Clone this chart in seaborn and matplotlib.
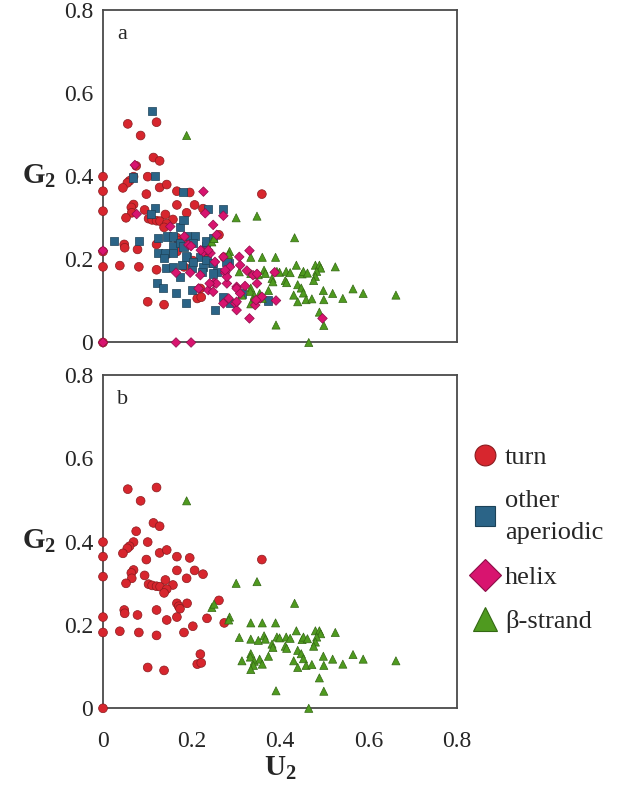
import pandas as pd
import matplotlib
matplotlib.use("Agg")
import matplotlib.pyplot as plt
from matplotlib.lines import Line2D
import seaborn as sns

# valores (U2, G2)
turn_u = [0.056, 0.121, 0.085, 0.114, 0.128, 0.075, 0.0, 0.069, 0.101, 0.060, 0.055, 0.045, 0.128, 0.144,
          0.0, 0.167, 0.196, 0.098, 0.359, 0.069, 0.064, 0.167, 0.207, 0.226, 0.094, 0.065, 0.189, 0.0,
          0.052, 0.103, 0.111, 0.121, 0.129, 0.141, 0.158, 0.144, 0.138, 0.262, 0.167, 0.171, 0.174, 0.190,
          0.121, 0.048, 0.049, 0.0, 0.078, 0.167, 0.144, 0.235, 0.274, 0.203, 0.038, 0.0, 0.081, 0.121,
          0.183, 0.220, 0.213, 0.222, 0.101, 0.138, 0.0]
turn_g = [0.526, 0.530, 0.498, 0.445, 0.437, 0.425, 0.399, 0.399, 0.399, 0.389, 0.384, 0.372, 0.373, 0.380,
          0.364, 0.364, 0.361, 0.357, 0.357, 0.332, 0.325, 0.331, 0.331, 0.322, 0.319, 0.312, 0.312, 0.316,
          0.300, 0.298, 0.295, 0.293, 0.292, 0.308, 0.296, 0.286, 0.277, 0.259, 0.252, 0.245, 0.239, 0.252,
          0.236, 0.236, 0.228, 0.219, 0.224, 0.219, 0.212, 0.216, 0.205, 0.197, 0.185, 0.182, 0.182, 0.175,
          0.182, 0.130, 0.106, 0.109, 0.098, 0.091, 0.0]

other_u = [0.111, 0.118, 0.067, 0.180, 0.118, 0.108, 0.237, 0.272, 0.025, 0.082, 0.125, 0.144, 0.173, 0.159,
           0.189, 0.208, 0.125, 0.140, 0.159, 0.175, 0.204, 0.138, 0.159, 0.189, 0.219, 0.232, 0.143, 0.159,
           0.178, 0.201, 0.227, 0.174, 0.122, 0.135, 0.165, 0.201, 0.187, 0.253, 0.246, 0.257, 0.272, 0.286,
           0.284, 0.372, 0.232, 0.182, 0.182, 0.187, 0.204, 0.226, 0.234, 0.249, 0.249, 0.279, 0.223, 0.249,
           0.314]
other_g = [0.557, 0.401, 0.397, 0.362, 0.323, 0.309, 0.322, 0.321, 0.245, 0.245, 0.252, 0.255, 0.277, 0.255,
           0.256, 0.256, 0.215, 0.215, 0.231, 0.239, 0.239, 0.203, 0.215, 0.206, 0.206, 0.231, 0.180, 0.182,
           0.186, 0.180, 0.182, 0.158, 0.144, 0.132, 0.120, 0.126, 0.094, 0.078, 0.191, 0.170, 0.110, 0.094,
           0.191, 0.101, 0.243, 0.295, 0.231, 0.207, 0.194, 0.223, 0.199, 0.251, 0.191, 0.194, 0.170, 0.166,
           0.118]

helix_u = [0.072, 0.227, 0.076, 0.231, 0.272, 0.249, 0.152, 0.184, 0.257, 0.193, 0.227, 0.243, 0.253, 0.272,
           0.308, 0.331, 0.165, 0.197, 0.276, 0.310, 0.251, 0.238, 0.280, 0.216, 0.302, 0.321, 0.339, 0.348,
           0.299, 0.302, 0.331, 0.355, 0.344, 0.391, 0.165, 0.199, 0.0, 0.0, 0.496, 0.199, 0.221, 0.238,
           0.287, 0.325, 0.348, 0.388, 0.359, 0.346, 0.302, 0.302, 0.272, 0.249, 0.256, 0.220, 0.241, 0.310,
           0.284, 0.280, 0.276]
helix_g = [0.427, 0.363, 0.309, 0.311, 0.305, 0.283, 0.279, 0.255, 0.259, 0.235, 0.218, 0.215, 0.194, 0.206,
           0.206, 0.221, 0.168, 0.168, 0.168, 0.186, 0.144, 0.126, 0.142, 0.130, 0.134, 0.136, 0.162, 0.142,
           0.094, 0.078, 0.058, 0.106, 0.090, 0.101, 0.0, 0.0, 0.221, 0.0, 0.058, 0.232, 0.222, 0.222,
           0.182, 0.173, 0.165, 0.169, 0.110, 0.102, 0.130, 0.098, 0.094, 0.122, 0.142, 0.162, 0.142, 0.118,
           0.106, 0.158, 0.174]

strand_u = [0.189, 0.301, 0.348, 0.246, 0.251, 0.286, 0.284, 0.433, 0.334, 0.360, 0.390, 0.308, 0.334, 0.351,
            0.364, 0.367, 0.382, 0.384, 0.393, 0.399, 0.412, 0.415, 0.414, 0.423, 0.437, 0.450, 0.453, 0.462,
            0.440, 0.448, 0.453, 0.480, 0.489, 0.492, 0.483, 0.480, 0.476, 0.525, 0.334, 0.333, 0.314, 0.342,
            0.354, 0.360, 0.340, 0.334, 0.374, 0.431, 0.440, 0.459, 0.472, 0.498, 0.499, 0.519, 0.542, 0.565,
            0.588, 0.662, 0.489, 0.391, 0.499, 0.465]
strand_g = [0.498, 0.300, 0.304, 0.242, 0.250, 0.219, 0.212, 0.252, 0.205, 0.205, 0.205, 0.170, 0.166, 0.163,
            0.174, 0.166, 0.154, 0.146, 0.171, 0.169, 0.149, 0.144, 0.171, 0.168, 0.186, 0.165, 0.171, 0.167,
            0.139, 0.131, 0.119, 0.186, 0.186, 0.179, 0.171, 0.159, 0.149, 0.182, 0.131, 0.123, 0.114, 0.113,
            0.118, 0.106, 0.103, 0.093, 0.125, 0.114, 0.098, 0.103, 0.105, 0.125, 0.103, 0.118, 0.106, 0.129,
            0.118, 0.114, 0.073, 0.042, 0.041, 0.0]

labels = ['turn', 'other\naperiodic', 'helix', '\u03b2-strand']
colores = {'turn': '#d7262e', 'other\naperiodic': '#2b6487', 'helix': '#d8146f', '\u03b2-strand': '#4f9a1f'}
bordes = {'turn': '#8a1a1e', 'other\naperiodic': '#1c4258', 'helix': '#8c0d48', '\u03b2-strand': '#336813'}
marcas = {'turn': 'o', 'other\naperiodic': 's', 'helix': 'D', '\u03b2-strand': '^'}
tamanos = {'turn': 40, 'other\naperiodic': 34, 'helix': 24, '\u03b2-strand': 34}
ticks = [0, 0.2, 0.4, 0.6, 0.8]
tick_labels = ['0', '0.2', '0.4', '0.6', '0.8']


def armar(partes):
    frames = []
    for nombre, u, g in partes:
        frames.append(pd.DataFrame({'U2': u, 'G2': g, 'tipo': nombre}))
    return pd.concat(frames, ignore_index=True)


df_a = armar([('turn', turn_u, turn_g), ('other\naperiodic', other_u, other_g),
              ('\u03b2-strand', strand_u, strand_g), ('helix', helix_u, helix_g)])
df_b = armar([('turn', turn_u, turn_g), ('\u03b2-strand', strand_u, strand_g)])

sns.set_style('white')
plt.rcParams['font.family'] = ['Liberation Serif', 'DejaVu Serif']
plt.rcParams['mathtext.fontset'] = 'custom'
plt.rcParams['mathtext.rm'] = 'Liberation Serif'
plt.rcParams['mathtext.bf'] = 'Liberation Serif:bold'

fig = plt.figure(figsize=(6.37, 7.93), dpi=100)
ax_a = fig.add_axes([0.1617, 0.5681, 0.5557, 0.4193])
ax_b = fig.add_axes([0.1617, 0.1068, 0.5557, 0.4203])

for ax, df, letra in [(ax_a, df_a, 'a'), (ax_b, df_b, 'b')]:
    sns.scatterplot(data=df, x='U2', y='G2', hue='tipo', style='tipo', size='tipo',
                    palette=colores, markers=marcas, sizes=tamanos,
                    edgecolor=[bordes[t] for t in df['tipo']], linewidth=0.5,
                    legend=False, ax=ax, clip_on=False, zorder=3)
    ax.set_xlim(0, 0.8)
    ax.set_ylim(0, 0.8)
    ax.set_xticks(ticks)
    ax.set_yticks(ticks)
    ax.set_yticks([0.1, 0.3, 0.5, 0.7], minor=True)
    ax.set_yticklabels(tick_labels, fontsize=17)
    ax.tick_params(axis='both', which='both', direction='out', length=4, width=1,
                   color='#8a8a8a', pad=4)
    ax.tick_params(axis='y', which='major', pad=3)
    for s in ax.spines.values():
        s.set_color('#4a4a4a')
        s.set_linewidth(1.3)
    ax.set_xlabel('')
    ax.set_ylabel(r'$\mathbf{G_2}$', fontsize=21, rotation=0, labelpad=18, va='center')
    ax.text(0.04, 0.955, letra, transform=ax.transAxes, fontsize=16, va='top', ha='left')

ax_a.set_xticklabels([])
ax_b.set_xticklabels(tick_labels, fontsize=17)
ax_b.tick_params(axis='x', pad=12)
ax_b.set_xlabel(r'$\mathbf{U_2}$', fontsize=21, labelpad=2)

handles = [Line2D([], [], ls='', marker=marcas[k], markersize=ms, markerfacecolor=colores[k],
                  markeredgecolor=bordes[k], markeredgewidth=0.8)
           for k, ms in zip(labels, [15, 15, 16, 17])]
leg = fig.legend(handles, labels, loc='upper left', bbox_to_anchor=(0.72, 0.455), frameon=False,
                 fontsize=19, handlelength=1.0, handletextpad=0.25, labelspacing=0.8,
                 borderpad=0)
for t in leg.get_texts():
    t.set_linespacing(1.6)

plt.savefig('out.png', dpi=100)
